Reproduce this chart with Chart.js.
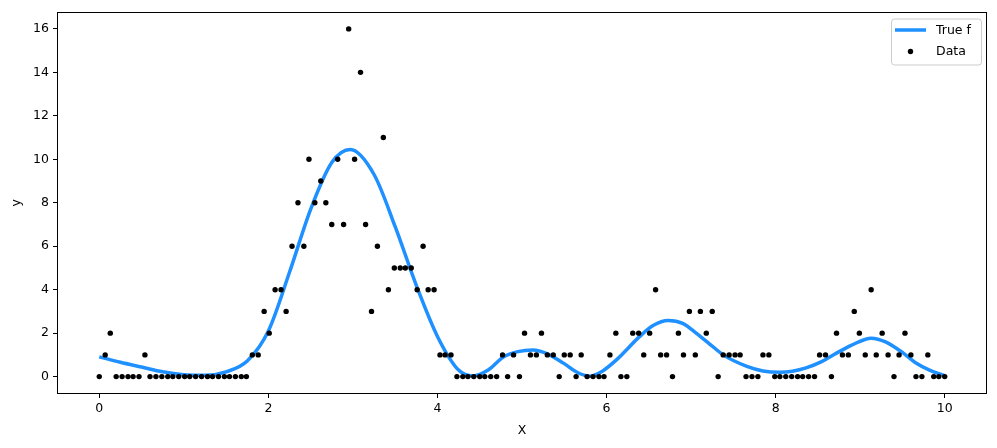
<!DOCTYPE html>
<html>
<head>
<meta charset="utf-8">
<script src="https://cdn.jsdelivr.net/npm/chart.js@4"></script>
<style>
  html, body { margin: 0; padding: 0; background: #fff; }
  #wrap { width: 997px; height: 448px; }
</style>
</head>
<body>
<div id="wrap"><canvas id="chart" width="997" height="448"></canvas></div>
<script>
// Observed counts (Data) at 150 evenly spaced x positions
const dataX = [
  0.00, 0.07, 0.13, 0.20, 0.27, 0.34, 0.40, 0.47, 0.54, 0.60,
  0.67, 0.74, 0.81, 0.87, 0.94, 1.01, 1.07, 1.14, 1.21, 1.28,
  1.34, 1.41, 1.48, 1.54, 1.61, 1.68, 1.74, 1.81, 1.88, 1.95,
  2.01, 2.08, 2.15, 2.21, 2.28, 2.35, 2.42, 2.48, 2.55, 2.62,
  2.68, 2.75, 2.82, 2.89, 2.95, 3.02, 3.09, 3.15, 3.22, 3.29,
  3.36, 3.42, 3.49, 3.56, 3.62, 3.69, 3.76, 3.83, 3.89, 3.96,
  4.03, 4.09, 4.16, 4.23, 4.30, 4.36, 4.43, 4.50, 4.56, 4.63,
  4.70, 4.77, 4.83, 4.90, 4.97, 5.03, 5.10, 5.17, 5.23, 5.30,
  5.37, 5.44, 5.50, 5.57, 5.64, 5.70, 5.77, 5.84, 5.91, 5.97,
  6.04, 6.11, 6.17, 6.24, 6.31, 6.38, 6.44, 6.51, 6.58, 6.64,
  6.71, 6.78, 6.85, 6.91, 6.98, 7.05, 7.11, 7.18, 7.25, 7.32,
  7.38, 7.45, 7.52, 7.58, 7.65, 7.72, 7.79, 7.85, 7.92, 7.99,
  8.05, 8.12, 8.19, 8.26, 8.32, 8.39, 8.46, 8.52, 8.59, 8.66,
  8.72, 8.79, 8.86, 8.93, 8.99, 9.06, 9.13, 9.19, 9.26, 9.33,
  9.40, 9.46, 9.53, 9.60, 9.66, 9.73, 9.80, 9.87, 9.93, 10.00
];
const dataY = [
  0, 1, 2, 0, 0, 0, 0, 0, 1, 0,
  0, 0, 0, 0, 0, 0, 0, 0, 0, 0,
  0, 0, 0, 0, 0, 0, 0, 1, 1, 3,
  2, 4, 4, 3, 6, 8, 6, 10, 8, 9,
  8, 7, 10, 7, 16, 10, 14, 7, 3, 6,
  11, 4, 5, 5, 5, 5, 4, 6, 4, 4,
  1, 1, 1, 0, 0, 0, 0, 0, 0, 0,
  0, 1, 0, 1, 0, 2, 1, 1, 2, 1,
  1, 0, 1, 1, 0, 1, 0, 0, 0, 0,
  1, 2, 0, 0, 2, 2, 1, 2, 4, 1,
  1, 0, 2, 1, 3, 1, 3, 2, 3, 0,
  1, 1, 1, 1, 0, 0, 0, 1, 1, 0,
  0, 0, 0, 0, 0, 0, 0, 1, 1, 0,
  2, 1, 1, 3, 2, 1, 4, 1, 2, 1,
  0, 1, 2, 1, 0, 0, 1, 0, 0, 0
];

// True f
const trueX = [0, 0.25, 0.5, 0.75, 1.0, 1.25, 1.5, 1.75, 2.0, 2.25, 2.5, 2.75, 2.97,
  3.25, 3.5, 3.75, 4.0, 4.25, 4.42, 4.6, 4.78, 4.95, 5.13, 5.3, 5.49, 5.65, 5.8, 5.95,
  6.12, 6.39, 6.55, 6.73, 6.9, 7.06, 7.22, 7.38, 7.66, 7.85, 8.05, 8.2, 8.36, 8.55,
  8.72, 8.9, 9.13, 9.3, 9.51, 9.65, 9.82, 10.0];
const trueY = [0.91, 0.66, 0.44, 0.22, 0.09, 0.06, 0.22, 0.72, 2.1, 4.8, 7.7, 9.85, 10.45,
  9.3, 6.9, 4.2, 1.85, 0.3, 0.03, 0.3, 0.9, 1.15, 1.23, 1.05, 0.62, 0.2, 0.02, 0.25,
  0.78, 1.84, 2.35, 2.58, 2.45, 2.0, 1.5, 1.0, 0.47, 0.26, 0.2, 0.25, 0.4, 0.7,
  1.08, 1.45, 1.77, 1.6, 1.08, 0.65, 0.3, 0.05];

const xTicks = [0, 2, 4, 6, 8, 10];
const yTicks = [0, 2, 4, 6, 8, 10, 12, 14, 16];
const seriesNames = ["True f", "Data"];

Chart.defaults.font.family = "'DejaVu Sans', sans-serif";
Chart.defaults.font.size = 12.5;
Chart.defaults.color = "#000";

const lineColor = "#1e90ff";

// frame round the plot area, like matplotlib's spines
const framePlugin = {
  id: "frame",
  afterDraw(chart) {
    const { ctx, chartArea: a } = chart;
    ctx.save();
    ctx.strokeStyle = "#000";
    ctx.lineWidth = 1;
    const l = Math.round(a.left) + 0.5, t = Math.round(a.top) + 0.5;
    const r = Math.round(a.right) - 0.5, b = Math.round(a.bottom) - 0.5;
    ctx.strokeRect(l, t, r - l, b - t);
    ctx.restore();
  }
};

// legend box in the upper right corner
const legendPlugin = {
  id: "mplLegend",
  afterDraw(chart) {
    const { ctx, chartArea: a } = chart;
    const w = 90, h = 46;
    const x = a.right - 6 - w, y = a.top + 7;
    ctx.save();
    ctx.beginPath();
    ctx.roundRect(x + 0.5, y + 0.5, w, h, 3);
    ctx.fillStyle = "rgba(255,255,255,0.8)";
    ctx.fill();
    ctx.strokeStyle = "#cccccc";
    ctx.lineWidth = 1;
    ctx.stroke();

    // line handle
    ctx.beginPath();
    ctx.moveTo(x + 4, y + 11.5);
    ctx.lineTo(x + 35, y + 11.5);
    ctx.strokeStyle = lineColor;
    ctx.lineWidth = 3.5;
    ctx.stroke();

    // dot handle
    ctx.beginPath();
    ctx.arc(x + 19.5, y + 33, 2.7, 0, Math.PI * 2);
    ctx.fillStyle = "#000";
    ctx.fill();

    ctx.font = "12.5px 'DejaVu Sans', sans-serif";
    ctx.fillStyle = "#000";
    ctx.textBaseline = "middle";
    ctx.fillText(seriesNames[0], x + 45, y + 12);
    ctx.fillText(seriesNames[1], x + 45, y + 33);
    ctx.restore();
  }
};

new Chart(document.getElementById("chart"), {
  type: "scatter",
  data: {
    datasets: [
      {
        label: seriesNames[0],
        data: trueX.map((x, i) => ({ x, y: trueY[i] })),
        showLine: true,
        borderColor: lineColor,
        borderWidth: 3.5,
        pointRadius: 0,
        cubicInterpolationMode: "monotone",
        order: 1
      },
      {
        label: seriesNames[1],
        data: dataX.map((x, i) => ({ x, y: dataY[i] })),
        pointRadius: 2.7,
        pointBackgroundColor: "#000",
        pointBorderWidth: 0,
        order: 0
      }
    ]
  },
  options: {
    responsive: false,
    animation: false,
    layout: { padding: { top: 10, right: 10, left: 0, bottom: 0 } },
    plugins: { legend: { display: false }, tooltip: { enabled: false } },
    scales: {
      x: {
        type: "linear",
        min: -0.5,
        max: 10.5,
        afterBuildTicks: s => { s.ticks = xTicks.map(v => ({ value: v })); },
        afterFit: s => { s.height = 54; },
        grid: { display: true, drawOnChartArea: false, drawTicks: true, tickLength: 4, tickColor: "#000" },
        border: { display: false },
        ticks: { padding: 3, color: "#000", maxRotation: 0 },
        title: { display: true, text: "X", color: "#000", padding: { top: 0, bottom: 10 } }
      },
      y: {
        type: "linear",
        min: -0.8,
        max: 16.8,
        afterBuildTicks: s => { s.ticks = yTicks.map(v => ({ value: v })); },
        afterFit: s => { s.width = 57; },
        grid: { display: true, drawOnChartArea: false, drawTicks: true, tickLength: 4, tickColor: "#000" },
        border: { display: false },
        ticks: { padding: 4, color: "#000" },
        title: { display: true, text: "y", color: "#000", padding: { top: 9, bottom: 0 } }
      }
    }
  },
  plugins: [framePlugin, legendPlugin]
});
</script>
</body>
</html>
